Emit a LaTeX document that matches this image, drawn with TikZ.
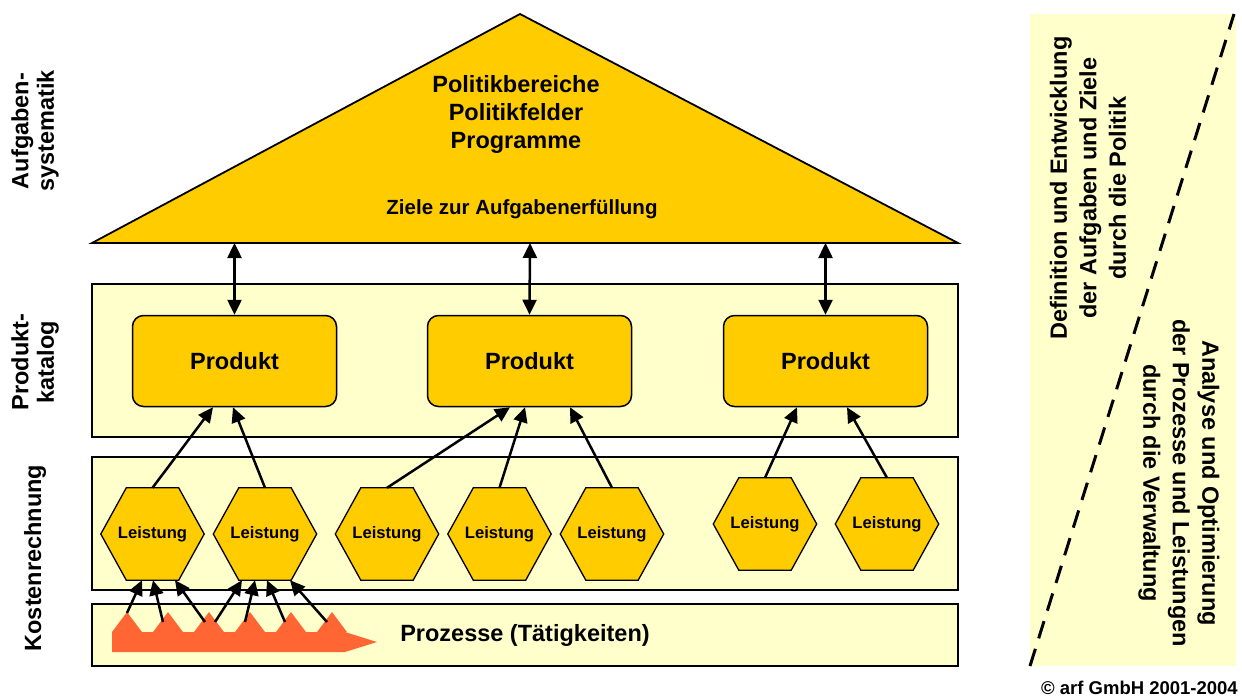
\documentclass[tikz,border=0pt]{standalone}
\usepackage{fontspec}
\setmainfont{Liberation Sans}
\usetikzlibrary{arrows.meta}
\definecolor{gold}{HTML}{FFCC00}
\definecolor{lightyel}{HTML}{FFFFCC}
\definecolor{procorange}{HTML}{FF6633}
\begin{document}
\begin{tikzpicture}[x=1pt,y=-1pt,
  band/.style={draw=black,line width=1.3pt,fill=lightyel},
  prod/.style={draw=black,line width=1.5pt,fill=gold,rounded corners=11pt,minimum width=204pt,minimum height=91pt,inner sep=0pt,font=\fontsize{23.5}{28}\selectfont\bfseries},
  hexnode/.style={rectangle,minimum width=103pt,minimum height=92pt,inner sep=0pt,font=\fontsize{16.6}{20}\selectfont\bfseries},
  hexline/.style={draw=black,line width=1.3pt,fill=gold,line join=miter},
  arr/.style={line width=2.5pt,-{Triangle[length=15pt,width=14pt]}},
  darr/.style={line width=2.5pt,{Triangle[length=15pt,width=14pt]}-{Triangle[length=15pt,width=14pt]}},
  lbl/.style={font=\fontsize{23.5}{25.5}\selectfont\bfseries,align=center,inner sep=0pt},
  rlbl/.style={font=\fontsize{23.5}{29.5}\selectfont\bfseries,align=center,inner sep=0pt},
  txt/.style={font=\fontsize{23.5}{28}\selectfont\bfseries,align=center,inner sep=0pt},
]
\useasboundingbox (0,0) rectangle (1242,697);
\fill[white] (0,0) rectangle (1242,697);

% right panel
\fill[lightyel] (1030,14) rectangle (1236,666);
\coordinate (d1) at (1030,666);
\coordinate (d2) at (1234,14);
\draw[line width=3pt,dash pattern=on 18pt off 11pt] (d1) -- (d2);
\node[rlbl,rotate=90] (deftext) at (1088,188) {Definition und Entwicklung\\der Aufgaben und Ziele\\durch die Politik};
\node[rlbl,rotate=-90] (anatext) at (1179,483) {Analyse und Optimierung\\der Prozesse und Leistungen\\durch die Verwaltung};
\node[anchor=east,inner sep=0pt,font=\fontsize{18.5}{20}\selectfont\bfseries] (copy) at (1238,688) {© arf GmbH 2001-2004};

% left labels
\node[lbl,rotate=90] (l1) at (35,131) {Aufgaben-\\systematik};
\node[lbl,rotate=90] (l2) at (35,362) {Produkt-\\katalog};
\node[lbl,rotate=90] (l3) at (35,558) {Kostenrechnung};

% triangle
\draw[fill=gold,line width=1.8pt,line join=miter] (520,14) -- (958,243) -- (92,243) -- cycle;
\node[txt] (pol) at (516,114) {Politikbereiche\\Politikfelder\\Programme};
\node[txt,font=\fontsize{20.5}{24}\selectfont\bfseries] (ziele) at (522,209) {Ziele zur Aufgabenerfüllung};
\coordinate (b1) at (234.5,243);
\coordinate (b2) at (530,243);
\coordinate (b3) at (825.5,243);

% bands
\draw[band] (92,284) rectangle (958,437);
\draw[band] (92,457) rectangle (958,590);
\draw[band] (92,604) rectangle (958,666);

% products
\node[prod] (p1) at (234.5,361) {Produkt};
\node[prod] (p2) at (529.5,361) {Produkt};
\node[prod] (p3) at (825.5,361) {Produkt};
\draw[darr] (b1) -- (p1.north);
\draw[darr] (b2) -- (p2.north);
\draw[darr] (b3) -- (p3.north);

% services (hexagons)
\foreach \n/\x/\y in {h1/152.5/534, h2/265/534, h3/387/534, h4/499.5/534, h5/612/534, h6/765/524, h7/887/524}{
  \node[hexnode] (\n) at (\x,\y) {};
  \path[hexline] (\n.west) -- ([xshift=25.5pt]\n.north west) -- ([xshift=-25.5pt]\n.north east)
     -- (\n.east) -- ([xshift=-25.5pt]\n.south east) -- ([xshift=25.5pt]\n.south west) -- cycle;
  \node[hexnode] at (\n.center) {Leistung};
}

\draw[arr] (h1.north) -- ([xshift=-21.5pt]p1.south);
\draw[arr] (h2.north) -- ([xshift=-1.5pt]p1.south);
\draw[arr] (h3.north) -- ([xshift=-19.5pt]p2.south);
\draw[arr] (h4.north) -- ([xshift=-4.5pt]p2.south);
\draw[arr] (h5.north) -- ([xshift=40.5pt]p2.south);
\draw[arr] (h6.north) -- ([xshift=-28.5pt]p3.south);
\draw[arr] (h7.north) -- ([xshift=21.5pt]p3.south);

% processes
\fill[procorange] (112,632) -- (345,632) -- (377,642) -- (345,652) -- (112,652) -- cycle;
\foreach \i in {0,...,5}
  \fill[procorange] ({112+41*\i},632) -- ({127+41*\i},612) -- ({142+41*\i},632) -- cycle;
\node[txt] (proz) at (525,635) {Prozesse (Tätigkeiten)};
\coordinate (t1) at (127,613);
\coordinate (t2) at (163,622);
\coordinate (t3) at (205,622);
\coordinate (t4) at (215,622);
\coordinate (t5) at (245,622);
\coordinate (t6) at (285,622);
\coordinate (t7) at (327,622);
\draw[arr] (t1) -- ([xshift=-10.5pt]h1.south);
\draw[arr] (t2) -- ([xshift=0.5pt]h1.south);
\draw[arr] (t3) -- ([xshift=22.5pt]h1.south);
\draw[arr] (t4) -- ([xshift=-23pt]h2.south);
\draw[arr] (t5) -- ([xshift=-10pt]h2.south);
\draw[arr] (t6) -- ([xshift=2pt]h2.south);
\draw[arr] (t7) -- ([xshift=25pt]h2.south);
\end{tikzpicture}
\end{document}
